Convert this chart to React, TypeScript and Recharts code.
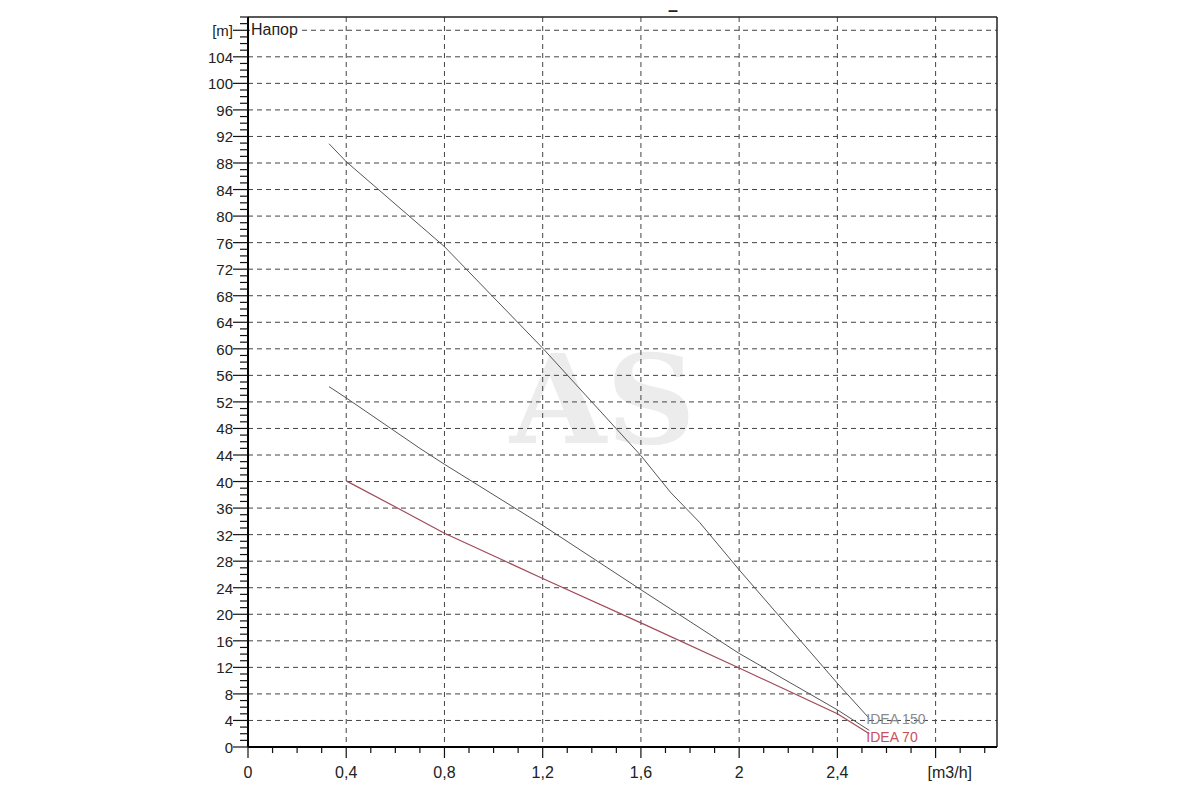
import React from "react";
import {
  LineChart,
  Line,
  XAxis,
  YAxis,
  CartesianGrid,
  ReferenceLine,
} from "recharts";

// flow [m3/h] / head [m]
const idea150Q = [0.33, 0.4, 0.8, 1.2, 1.6, 1.72, 1.84, 2.0, 2.4, 2.53];
const idea150H = [90.9, 88.2, 75.4, 60.1, 43.9, 38.4, 33.8, 26.7, 9.6, 4.3];

const idea100Q = [0.33, 0.4, 0.7, 0.8, 1.2, 1.6, 2.0, 2.4, 2.53];
const idea100H = [54.3, 52.6, 45.0, 42.6, 33.4, 23.7, 14.1, 5.6, 2.5];

const idea70Q = [0.4, 0.62, 0.8, 1.2, 1.6, 2.0, 2.4, 2.53];
const idea70H = [40.1, 35.8, 32.2, 25.4, 18.7, 11.9, 5.0, 2.0];

// axes
const yMajor = [0, 4, 8, 12, 16, 20, 24, 28, 32, 36, 40, 44, 48, 52, 56, 60, 64, 68, 72, 76, 80, 84, 88, 92, 96, 100, 104, 108];
const yMajorLabels = ["0", "4", "8", "12", "16", "20", "24", "28", "32", "36", "40", "44", "48", "52", "56", "60", "64", "68", "72", "76", "80", "84", "88", "92", "96", "100", "104", "[m]"];
const yMinor = Array.from({ length: 111 }, (_, i) => i);

const xMajor = [0, 0.4, 0.8, 1.2, 1.6, 2, 2.4, 2.8];
const xMajorLabels = ["0", "0,4", "0,8", "1,2", "1,6", "2", "2,4", "[m3/h]"];
const xMinor = Array.from({ length: 31 }, (_, i) => i / 10);

const zip = (q: number[], h: number[]) => q.map((v, i) => ({ q: v, h: h[i] }));
const idea150 = zip(idea150Q, idea150H);
const idea100 = zip(idea100Q, idea100H);
const idea70 = zip(idea70Q, idea70H);

const FONT = "'Liberation Sans', Arial, sans-serif";

const YTick = (p: any) => {
  const v = p.payload.value;
  const idx = yMajor.indexOf(v);
  if (idx < 0) {
    return <line x1={p.x - 8} x2={p.x} y1={p.y} y2={p.y} stroke="#111" strokeWidth={1.2} />;
  }
  return (
    <g>
      <line x1={p.x - 15} x2={p.x} y1={p.y} y2={p.y} stroke="#111" strokeWidth={1.2} />
      <text x={p.x - 15} y={p.y + 6} textAnchor="end" fontSize={15} fontFamily={FONT} fill="#222">
        {yMajorLabels[idx]}
      </text>
    </g>
  );
};

const XTick = (p: any) => {
  const v = p.payload.value;
  const idx = xMajor.findIndex((m) => Math.abs(m - v) < 1e-6);
  if (idx < 0) {
    return <line x1={p.x} x2={p.x} y1={p.y} y2={p.y + 6} stroke="#111" strokeWidth={1.2} />;
  }
  const last = idx === xMajor.length - 1;
  return (
    <g>
      <line x1={p.x} x2={p.x} y1={p.y} y2={p.y + 11} stroke="#111" strokeWidth={1.2} />
      <text
        x={last ? p.x - 8 : p.x}
        y={p.y + 31}
        textAnchor={last ? "start" : "middle"}
        fontSize={16}
        fontFamily={FONT}
        fill="#222"
      >
        {xMajorLabels[idx]}
      </text>
    </g>
  );
};

const endLabel = (text: string, color: string, last: number, dy: number) => (p: any) => {
  if (p.index !== last) return <g />;
  return (
    <text x={p.x - 3} y={p.y + dy} fill={color} fontSize={14} fontFamily={FONT}>
      {text}
    </text>
  );
};

export default function App() {
  return (
    <div style={{ position: "absolute", left: 0, top: 0, width: 1200, height: 800, background: "#fff" }}>
      {/* watermark */}
      <div
        style={{
          position: "absolute",
          left: 510,
          top: 330,
          fontFamily: "'DejaVu Serif', serif",
          fontSize: 124,
          fontWeight: "bold",
          color: "#ececec",
          lineHeight: "140px",
        }}
      >
        AS
      </div>
      <div
        style={{
          position: "absolute",
          left: 668,
          top: 0,
          fontFamily: FONT,
          fontSize: 18,
          fontWeight: "bold",
          color: "#222",
        }}
      >
        –
      </div>
      <div style={{ position: "absolute", left: 0, top: 0 }}>
        <LineChart width={1200} height={800} margin={{ top: 17, right: 203, bottom: 0, left: 0 }}>
          <CartesianGrid
            horizontal
            vertical
            horizontalValues={yMajor.slice(1)}
            verticalValues={xMajor.slice(1)}
            stroke="#444"
            strokeDasharray="5 4"
          />
          <XAxis
            dataKey="q"
            type="number"
            domain={[0, 3.05]}
            allowDataOverflow
            ticks={xMinor}
            interval={0}
            tick={<XTick />}
            tickLine={false}
            tickSize={0}
            tickMargin={0}
            height={53}
            axisLine={{ stroke: "#000", strokeWidth: 2 }}
          />
          <YAxis
            type="number"
            domain={[0, 110]}
            allowDataOverflow
            ticks={yMinor}
            interval={0}
            tick={<YTick />}
            tickLine={false}
            tickSize={0}
            tickMargin={0}
            width={248}
            axisLine={{ stroke: "#000", strokeWidth: 2 }}
          />
          <ReferenceLine y={110} stroke="#222" strokeWidth={1.5} />
          <ReferenceLine x={3.05} stroke="#222" strokeWidth={1.5} />
          <Line
            data={idea150}
            dataKey="h"
            stroke="#555"
            strokeWidth={1}
            dot={false}
            activeDot={false}
            isAnimationActive={false}
            label={endLabel("IDEA 150", "#8a8a8a", idea150.length - 1, 5.5)}
          />
          <Line
            data={idea100}
            dataKey="h"
            stroke="#555"
            strokeWidth={1}
            dot={false}
            activeDot={false}
            isAnimationActive={false}
          />
          <Line
            data={idea70}
            dataKey="h"
            stroke="#a04a58"
            strokeWidth={1.2}
            dot={false}
            activeDot={false}
            isAnimationActive={false}
            label={endLabel("IDEA 70", "#c9505e", idea70.length - 1, 8)}
          />
        </LineChart>
      </div>
      <div
        style={{
          position: "absolute",
          left: 250,
          top: 21,
          height: 18,
          lineHeight: "18px",
          padding: "0 4px 0 1px",
          background: "#fff",
          fontFamily: FONT,
          fontSize: 16,
          color: "#222",
        }}
      >
        Напор
      </div>
    </div>
  );
}
